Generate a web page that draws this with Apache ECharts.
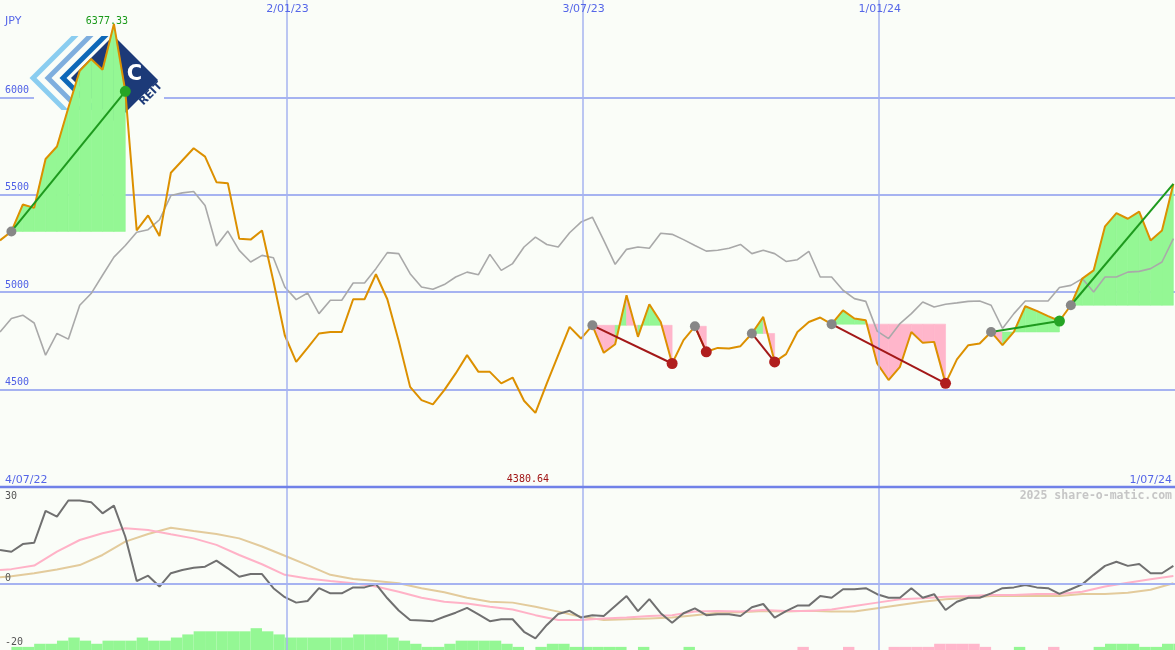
<!DOCTYPE html>
<html><head><meta charset="utf-8">
<script src="https://cdn.jsdelivr.net/npm/echarts@6/dist/echarts.min.js"></script>
<style>html,body{margin:0;padding:0;background:#fafdf8}#c{width:1175px;height:650px}</style>
</head><body><div id="c"></div>
<script>
// ---------- data ----------
const startDate = Date.UTC(2022, 6, 10);   // first weekly close
const endDate = Date.UTC(2024, 6, 1);      // right edge of the chart
const DAY = 864e5, WEEK = 7 * DAY;

// weekly closing price (JPY)
const price = [5266,5312,5450,5433,5684,5748,5947,6137,6197,6142,
 6377.33,6031,5317,5394,5288,5613,5676,5739,5696,5565,
 5559,5275,5270,5317,5056,4779,4642,4714,4788,4796,
 4796,4964,4964,5092,4964,4750,4514,4446,4424,4497,
 4583,4677,4591,4591,4532,4562,4443,4380.64,4532,4677,
 4822,4762,4830,4689,4733,4984,4771,4938,4847,4634,
 4754,4825,4694,4714,4711,4723,4788,4873,4642,4682,
 4796,4847,4870,4836,4907,4865,4856,4634,4549,4617,
 4796,4740,4745,4532,4655,4728,4737,4796,4728,4796,
 4928,4904,4877,4852,4933,5070,5112,5338,5406,5377,
 5414,5266,5317,5556];

// comparison index (grey line), scaled to price
const compare = [4796,4865,4882,4842,4677,4788,4759,4933,4993,5087,
 5180,5240,5308,5321,5372,5496,5510,5517,5445,5237,
 5314,5215,5155,5189,5177,5027,4962,4996,4890,4959,
 4959,5047,5047,5121,5203,5198,5095,5027,5015,5039,
 5078,5103,5090,5194,5112,5147,5232,5283,5245,5232,
 5305,5360,5385,5266,5143,5220,5232,5226,5303,5297,
 5270,5240,5211,5215,5226,5245,5198,5215,5198,5158,
 5167,5210,5078,5078,5010,4967,4953,4800,4762,4839,
 4890,4950,4924,4938,4945,4953,4955,4933,4814,4890,
 4955,4955,4955,5024,5035,5070,5001,5078,5078,5103,
 5107,5121,5155,5275];

// lower panel: momentum (dark grey)
const momentum = [12.2,11.6,14.4,14.9,26.6,24.5,30.4,30.4,29.8,25.7,
 28.5,17.1,0.8,2.8,-1.2,3.7,4.9,5.7,6.1,8.3,
 5.5,2.4,3.4,3.4,-1.8,-5.1,-7.1,-6.5,-1.8,-3.7,
 -3.7,-1.5,-1.5,-0.3,-5.5,-10.0,-13.5,-13.7,-13.9,-12.3,
 -10.8,-9.0,-11.4,-13.9,-13.2,-13.2,-17.8,-20.2,-15.3,-11.3,
 -10.1,-12.6,-11.7,-12.0,-8.3,-4.7,-10.2,-5.8,-11.0,-14.5,
 -11.0,-9.2,-11.7,-11.4,-11.4,-12.0,-8.8,-7.6,-12.6,-10.2,
 -8.2,-8.2,-4.7,-5.3,-2.2,-2.2,-1.8,-4.0,-5.3,-5.3,
 -1.8,-5.3,-4.0,-9.8,-6.8,-5.3,-5.3,-3.7,-1.8,-1.5,
 -0.6,-1.5,-1.8,-3.9,-2.2,-0.4,3.1,6.4,7.9,6.4,
 7.1,3.7,3.7,6.4];

// smoothed averages, read at weeks 0,1,3,5,...,103
const fastAvg = [4.9,5.2,6.5,11.6,15.9,18.4,20.2,19.6,18.0,16.5,14.1,10.4,7.0,3.1,1.8,0.8,0,-1.2,
 -3.1,-5.3,-6.8,-7.4,-8.6,-9.6,-11.7,-13.5,-13.5,-12.9,-12.6,-12.0,-11.7,-10.4,-10.2,-10.4,-9.8,
 -10.2,-10.2,-9.6,-8.3,-7.1,-5.9,-5.5,-4.9,-4.7,-4.3,-4.3,-3.9,-3.9,-3.1,-1.2,0.2,1.5,2.7];
const slowAvg = [2.2,2.6,3.7,5.1,6.7,10.4,15.3,18.1,20.4,19.2,18.1,16.5,13.5,10.1,6.7,3.1,1.6,0.8,
 0,-1.8,-3.3,-5.3,-6.8,-7.1,-8.6,-10.4,-12.3,-13.5,-13.2,-12.9,-12.6,-11.7,-10.8,-10.6,-10.2,
 -10.4,-10.1,-10.4,-10.4,-9.2,-8.0,-6.8,-5.9,-5.3,-4.7,-4.7,-4.7,-4.7,-3.9,-3.9,-3.5,-2.4,0];

// histogram at the bottom (sign -> colour)
const histo = [0,1,1,2,2,3,4,3,2,3,
 3,3,4,3,3,4,5,6,6,6,
 6,6,7,6,5,4,4,4,4,4,
 4,5,5,5,4,3,2,1,1,2,
 3,3,3,3,2,1,0,1,2,2,
 1,1,1,1,1,0,1,0,0,0,
 1,0,0,0,0,0,0,0,0,0,
 -1,0,0,0,-1,0,0,0,-1,-1,
 -1,-1,-2,-2,-2,-2,-1,0,0,1,
 0,0,-1,0,0,0,1,2,2,2,
 1,1,2,2];

// trend patterns (week index of start / end)
const patternStart = [1, 52, 61, 66, 73, 87, 94];
const patternEnd   = [11, 59, 62, 68, 83, 93, 103];
const patternOpen  = [0, 0, 0, 0, 0, 0, 1];

// tick labels
const gridDates = [Date.UTC(2023,0,2), Date.UTC(2023,6,3), Date.UTC(2024,0,1)];
const gridLabels = ['2/01/23', '3/07/23', '1/01/24'];
const firstLabel = '4/07/22', lastLabel = '1/07/24';
const lowerLabels = ['30', '0', '-20'];
const maxText = '6377.33', minText = '4380.64';

// ---------- build ----------
const t = k => startDate + k * WEEK;
const smoothWeeks = [0]; for (let k = 1; k <= 103; k += 2) smoothWeeks.push(k);

const fillData = [];
patternStart.forEach((s, i) => {
  const e = patternEnd[i], L = price[s];
  for (let k = s; k < e; k++) fillData.push([t(k), price[k], t(k + 1), price[k + 1], L]);
});
const trendData = patternStart.map((s, i) => {
  const e = patternEnd[i];
  return [t(s), price[s], t(e), price[e], price[e] > price[s] ? 1 : -1, patternOpen[i]];
});
const histData = [];
histo.forEach((v, k) => { if (v !== 0) histData.push([t(k), t(k + 1), Math.abs(v), v > 0 ? 1 : -1]); });

const GREEN = '#94f794', PINK = '#ffb6cb';
const GRID = '#a6b3f1';
const vLines = gridDates.map(d => ({ xAxis: d }));

const chart = echarts.init(document.getElementById('c'));
const hiddenX = (gi) => ({ type: 'time', gridIndex: gi, min: startDate, max: endDate,
  axisLine: { show: false }, axisTick: { show: false }, axisLabel: { show: false }, splitLine: { show: false } });
const option = {
  animation: false,
  backgroundColor: '#fafdf8',
  grid: [
    { left: 0, right: 0, top: 0, height: 487 },
    { left: 0, right: 0, top: 488, height: 162 }
  ],
  xAxis: [hiddenX(0), hiddenX(1)],
  yAxis: [
    { type: 'value', gridIndex: 0, min: 4000, max: 6500, interval: 500,
      axisLine: { show: false }, axisTick: { show: false },
      splitLine: { show: true, showMinLine: false, showMaxLine: false, lineStyle: { color: GRID, width: 2 } },
      axisLabel: { inside: true, margin: 5, color: '#4f60e6', fontFamily: 'DejaVu Sans Mono', fontSize: 10,
        formatter: v => String(v),
        verticalAlign: 'bottom', padding: [0, 0, 2, 0], showMinLabel: false, showMaxLabel: false } },
    { type: 'value', gridIndex: 1, min: -24.5, max: 35,
      axisLine: { show: false }, axisTick: { show: false }, splitLine: { show: false }, axisLabel: { show: false } },
    { type: 'value', gridIndex: 1, min: 0, max: 52,
      axisLine: { show: false }, axisTick: { show: false }, splitLine: { show: false }, axisLabel: { show: false } }
  ],
  series: [
    { type: 'custom', name: 'fill', xAxisIndex: 0, yAxisIndex: 0, z: 2, clip: true,
      encode: { x: [0, 2], y: [1, 3, 4] },
      data: fillData,
      renderItem: function (params, api) {
        const L = api.value(4);
        const a = api.coord([api.value(0), L]);
        const b = api.coord([api.value(0), api.value(1)]);
        const c = api.coord([api.value(2), api.value(3)]);
        const d = api.coord([api.value(2), L]);
        const col = api.value(3) >= L ? GREEN : PINK;
        return { type: 'polygon', shape: { points: [a, b, c, d] }, style: { fill: col, stroke: col, lineWidth: 0.6 } };
      } },
    { type: 'line', name: 'compare', xAxisIndex: 0, yAxisIndex: 0, z: 3, symbol: 'none',
      data: compare.map((v, k) => [t(k), v]),
      lineStyle: { color: '#a9a9a9', width: 1.6 },
      markLine: { silent: true, symbol: 'none', label: { show: false }, animation: false,
        lineStyle: { color: GRID, width: 1.5, type: 'solid' }, data: vLines } },
    { type: 'line', name: 'price', xAxisIndex: 0, yAxisIndex: 0, z: 4, symbol: 'none',
      data: price.map((v, k) => [t(k), v]),
      lineStyle: { color: '#dc9000', width: 2 } },
    { type: 'custom', name: 'trend', xAxisIndex: 0, yAxisIndex: 0, z: 5, clip: false,
      encode: { x: [0, 2], y: [1, 3] },
      data: trendData,
      renderItem: function (params, api) {
        const a = api.coord([api.value(0), api.value(1)]);
        const b = api.coord([api.value(2), api.value(3)]);
        const up = api.value(4) > 0, open = api.value(5) > 0;
        const col = up ? '#1e9a1e' : '#a31818';
        const ch = [
          { type: 'line', shape: { x1: a[0], y1: a[1], x2: b[0], y2: b[1] }, style: { stroke: col, lineWidth: 2 } },
          { type: 'circle', shape: { cx: a[0], cy: a[1], r: 5 }, style: { fill: '#878787' } }
        ];
        if (!open) ch.push({ type: 'circle', shape: { cx: b[0], cy: b[1], r: 5.5 }, style: { fill: up ? '#25a525' : '#b01e1e' } });
        return { type: 'group', children: ch };
      } },
    { type: 'custom', name: 'histo', xAxisIndex: 1, yAxisIndex: 2, z: 2, clip: true,
      encode: { x: [0, 1], y: 2 },
      data: histData,
      renderItem: function (params, api) {
        const p0 = api.coord([api.value(0), 0]);
        const p1 = api.coord([api.value(1), api.value(2)]);
        return { type: 'rect', shape: { x: p0[0], y: p1[1], width: p1[0] - p0[0], height: p0[1] - p1[1] },
          style: { fill: api.value(3) > 0 ? GREEN : PINK } };
      } },
    { type: 'line', name: 'slow', xAxisIndex: 1, yAxisIndex: 1, z: 3, symbol: 'none',
      data: slowAvg.map((v, i) => [t(smoothWeeks[i]), v]),
      lineStyle: { color: '#e3cb9c', width: 2 } },
    { type: 'line', name: 'fast', xAxisIndex: 1, yAxisIndex: 1, z: 3, symbol: 'none',
      data: fastAvg.map((v, i) => [t(smoothWeeks[i]), v]),
      lineStyle: { color: '#ffb2c7', width: 2 } },
    { type: 'line', name: 'momentum', xAxisIndex: 1, yAxisIndex: 1, z: 4, symbol: 'none',
      data: momentum.map((v, k) => [t(k), v]),
      lineStyle: { color: '#707070', width: 2 },
      markLine: { silent: true, symbol: 'none', label: { show: false }, animation: false,
        lineStyle: { color: GRID, width: 1.5, type: 'solid' },
        data: vLines.concat([{ yAxis: 0, lineStyle: { color: GRID, width: 2 } }]) } }
  ]
};
chart.setOption(option);

// ---------- texts & logo ----------
const blue = '#5566e8';
const g = [];
function chev(c, d, w) {
  const c1 = c - w / 2, c2 = c + w / 2, d1 = d - w / 2, d2 = d + w / 2;
  return [[c1 - 36, 36], [c2 - 36, 36], [(c2 + d2) / 2, (c2 - d2) / 2], [110 + d2, 110], [110 + d1, 110], [(c1 + d1) / 2, (c1 - d1) / 2]];
}
g.push({ type: 'rect', z: 1, silent: true, shape: { x: 34, y: 33, width: 130, height: 92 }, style: { fill: '#fafdf8' } });
g.push({ type: 'polygon', z: 1, silent: true, shape: { points: chev(111, -45, 7) }, style: { fill: '#8acdf0' } });
g.push({ type: 'polygon', z: 1, silent: true, shape: { points: chev(126, -30, 7) }, style: { fill: '#7eaede' } });
g.push({ type: 'polygon', z: 1, silent: true, shape: { points: chev(141, -15, 7) }, style: { fill: '#0d68b8' } });
g.push({ type: 'polygon', z: 1, silent: true, shape: { points: [[113.5, 35.5], [158, 80], [115.5, 122.5], [71, 78]] }, style: { fill: '#1c3a78' } });
g.push({ type: 'text', z: 1, silent: true, x: 134.5, y: 75, style: { text: 'C', fill: '#ffffff', font: 'bold 21px "DejaVu Sans"', align: 'center', verticalAlign: 'middle' } });
g.push({ type: 'text', z: 1, silent: true, x: 151, y: 94, rotation: Math.PI / 4, style: { text: 'REIT', fill: '#1c3a78', font: 'bold 11px "DejaVu Sans"', align: 'center', verticalAlign: 'middle' } });

g.push({ type: 'line', z: 10, silent: true, shape: { x1: 0, y1: 487, x2: 1175, y2: 487 }, style: { stroke: '#7081e8', lineWidth: 2.5 } });
g.push({ type: 'text', z: 10, x: 5, y: 21, style: { text: 'JPY', fill: blue, font: '11px "DejaVu Sans"', verticalAlign: 'middle' } });
gridDates.forEach((d, i) => {
  const px = chart.convertToPixel({ xAxisIndex: 0 }, d);
  g.push({ type: 'text', z: 10, x: px + 1, y: 9, style: { text: gridLabels[i], fill: blue, font: '11px "DejaVu Sans"', align: 'center', verticalAlign: 'middle' } });
});
g.push({ type: 'text', z: 10, x: 5, y: 480, style: { text: firstLabel, fill: blue, font: '11px "DejaVu Sans"', verticalAlign: 'middle' } });
g.push({ type: 'text', z: 10, x: 1172, y: 480, style: { text: lastLabel, fill: blue, font: '11px "DejaVu Sans"', align: 'right', verticalAlign: 'middle' } });
const maxK = price.indexOf(Math.max(...price)), minK = price.indexOf(Math.min(...price));
const pMax = chart.convertToPixel({ xAxisIndex: 0, yAxisIndex: 0 }, [t(maxK), price[maxK]]);
const pMin = chart.convertToPixel({ xAxisIndex: 0, yAxisIndex: 0 }, [t(minK), price[minK]]);
g.push({ type: 'text', z: 10, x: pMax[0] - 7, y: pMax[1] + 2.5, style: { text: maxText, fill: '#1a9a1a', font: '10px "DejaVu Sans Mono"', align: 'center', verticalAlign: 'bottom' } });
g.push({ type: 'text', z: 10, x: pMin[0] - 7.5, y: 479, style: { text: minText, fill: '#a01515', font: '10px "DejaVu Sans Mono"', align: 'center', verticalAlign: 'middle' } });
g.push({ type: 'text', z: 10, x: 1172, y: 496, style: { text: '2025 share-o-matic.com', fill: '#c6c6c6', font: 'bold 11.5px "DejaVu Sans Mono"', align: 'right', verticalAlign: 'middle' } });
const lowerY = [496.5, 578.5, 642];
lowerLabels.forEach((s, i) => g.push({ type: 'text', z: 10, x: 5, y: lowerY[i], style: { text: s, fill: '#555555', font: '10px "DejaVu Sans Mono"', verticalAlign: 'middle' } }));

chart.setOption({ graphic: g });
</script>
</body></html>
